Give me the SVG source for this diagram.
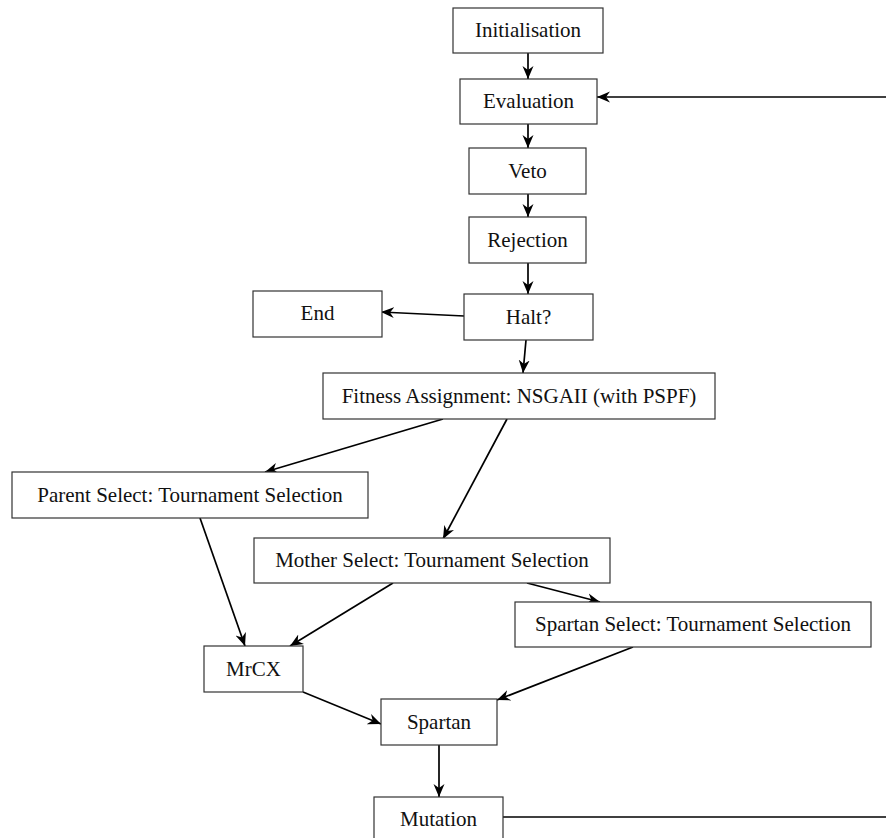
<svg xmlns="http://www.w3.org/2000/svg" width="886" height="838" viewBox="0 0 886 838">
  <style>
    .box { fill: #ffffff; stroke: #333333; stroke-width: 1.2; }
    .lbl { font-family: "Liberation Serif", "Times New Roman", serif; font-size: 21px; fill: #111111; text-anchor: middle; }
    .edge { fill: none; stroke: #000000; stroke-width: 1.7; }
    .arrow { marker-end: url(#head); }
  </style>
  <defs>
    <marker id="head" markerUnits="userSpaceOnUse" markerWidth="14" markerHeight="12" viewBox="0 0 14 12" refX="13" refY="6" orient="auto">
      <path d="M0,0.5 L13,6 L0,11.5 L4,6 Z" fill="#000000"/>
    </marker>
  </defs>
  <rect width="886" height="838" fill="#ffffff"/>

  <!-- connectors -->
  <g id="connectors">
    <line class="edge arrow" x1="528" y1="53" x2="528" y2="79"/>
    <line class="edge arrow" x1="886" y1="97" x2="597" y2="97"/>
    <line class="edge arrow" x1="528" y1="124" x2="528" y2="148"/>
    <line class="edge arrow" x1="528" y1="194" x2="528" y2="217"/>
    <line class="edge arrow" x1="528" y1="263" x2="528" y2="294"/>
    <line class="edge arrow" x1="464" y1="316" x2="381" y2="312"/>
    <line class="edge arrow" x1="526" y1="340" x2="523" y2="373"/>
    <line class="edge arrow" x1="443" y1="419" x2="265" y2="472"/>
    <line class="edge arrow" x1="507" y1="419" x2="443" y2="539"/>
    <line class="edge arrow" x1="200" y1="518" x2="245" y2="646"/>
    <line class="edge arrow" x1="393" y1="583" x2="290" y2="646"/>
    <line class="edge arrow" x1="527" y1="583" x2="600" y2="602"/>
    <line class="edge arrow" x1="633" y1="647" x2="497" y2="700"/>
    <line class="edge arrow" x1="303" y1="692" x2="381" y2="724"/>
    <line class="edge arrow" x1="439" y1="745" x2="439" y2="797"/>
    <line class="edge" x1="503" y1="817" x2="886" y2="817"/>
  </g>

  <!-- nodes -->
  <g id="initialisation">
    <rect class="box" x="453" y="8" width="150" height="45"/>
    <text class="lbl" x="528" y="37">Initialisation</text>
  </g>
  <g id="evaluation">
    <rect class="box" x="460" y="79" width="137" height="45"/>
    <text class="lbl" x="528.5" y="108">Evaluation</text>
  </g>
  <g id="veto">
    <rect class="box" x="469" y="148" width="117" height="46"/>
    <text class="lbl" x="527.5" y="178">Veto</text>
  </g>
  <g id="rejection">
    <rect class="box" x="469" y="217" width="117" height="46"/>
    <text class="lbl" x="527.5" y="247">Rejection</text>
  </g>
  <g id="halt">
    <rect class="box" x="464" y="294" width="129" height="46"/>
    <text class="lbl" x="528.5" y="324">Halt?</text>
  </g>
  <g id="end">
    <rect class="box" x="253" y="291" width="129" height="46"/>
    <text class="lbl" x="317.5" y="320">End</text>
  </g>
  <g id="fitness">
    <rect class="box" x="323" y="373" width="392" height="46"/>
    <text class="lbl" x="519" y="403">Fitness Assignment: NSGAII (with PSPF)</text>
  </g>
  <g id="parent-select">
    <rect class="box" x="12" y="472" width="356" height="46"/>
    <text class="lbl" x="190" y="502">Parent Select: Tournament Selection</text>
  </g>
  <g id="mother-select">
    <rect class="box" x="254" y="538" width="356" height="45"/>
    <text class="lbl" x="432" y="567">Mother Select: Tournament Selection</text>
  </g>
  <g id="spartan-select">
    <rect class="box" x="515" y="602" width="356" height="45"/>
    <text class="lbl" x="693" y="631">Spartan Select: Tournament Selection</text>
  </g>
  <g id="mrcx">
    <rect class="box" x="204" y="646" width="99" height="46"/>
    <text class="lbl" x="253.5" y="676">MrCX</text>
  </g>
  <g id="spartan">
    <rect class="box" x="381" y="699" width="116" height="46"/>
    <text class="lbl" x="439" y="729">Spartan</text>
  </g>
  <g id="mutation">
    <rect class="box" x="374" y="797" width="129" height="46"/>
    <text class="lbl" x="438.5" y="826">Mutation</text>
  </g>
</svg>
